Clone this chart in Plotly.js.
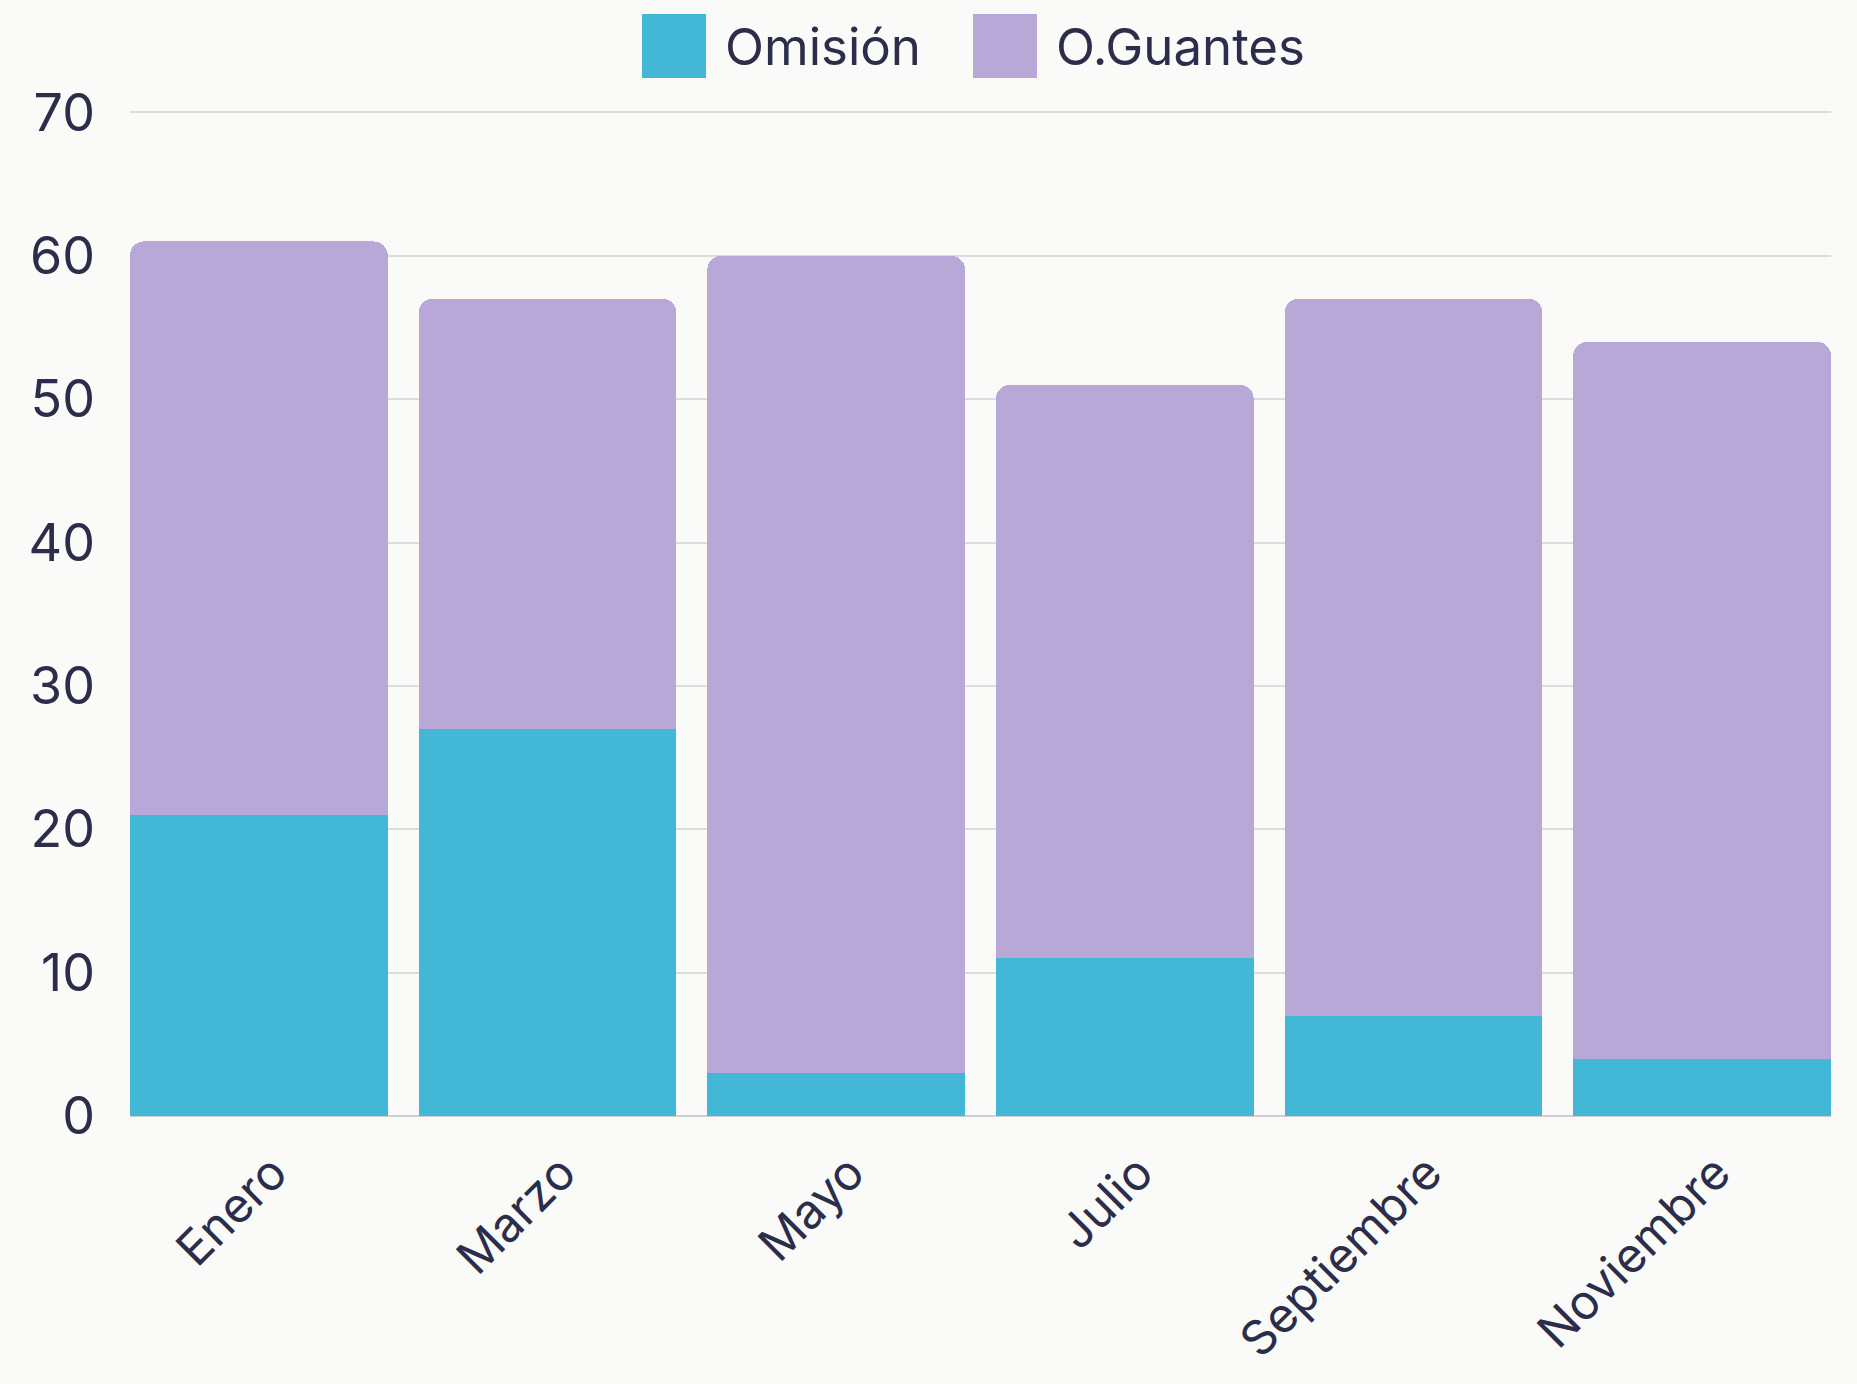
<!DOCTYPE html>
<html>
<head>
<meta charset="utf-8">
<script src="https://cdn.plot.ly/plotly-3.0.1.min.js"></script>
<style>
html,body{margin:0;padding:0;background:#fafaf9;}
#chart{width:1857px;height:1384px;}
</style>
</head>
<body>
<div id="chart"></div>
<script>
const months = ["Enero", "Marzo", "Mayo", "Julio", "Septiembre", "Noviembre"];
const omision = [21, 27, 3, 11, 7, 4];
const guantes = [40, 30, 57, 40, 50, 50];
const seriesNames = ["Omisión", "O.Guantes"];
const seriesColors = ["#42b7d6", "#b8a8d8"];
const yTicks = [0, 10, 20, 30, 40, 50, 60, 70];

const textColor = "#2b2d4a";
const fontFamily = "Inter, 'Noto Sans', sans-serif";
const gap = 0.107;
const half = (1 - gap) / 2;

const traces = [
  {type: "bar", name: seriesNames[0], x: months, y: omision,
   marker: {color: seriesColors[0], line: {width: 0}}, showlegend: false},
  {type: "bar", name: seriesNames[1], x: months, y: guantes,
   marker: {color: seriesColors[1], line: {width: 0}}, showlegend: false}
];

// custom legend (swatches + labels)
const plotL = 130, plotW = 1701, plotT = 111, plotH = 1005;
const legendSwatchX = [642, 973];
const legendTextX = [723, 1054];
const shapes = [];
const annotations = [];
for (let i = 0; i < seriesNames.length; i++) {
  shapes.push({type: "rect", xref: "paper", yref: "paper",
    x0: (legendSwatchX[i] - plotL) / plotW, x1: (legendSwatchX[i] + 64 - plotL) / plotW,
    y0: 1 + (plotT - 78) / plotH, y1: 1 + (plotT - 14) / plotH,
    fillcolor: seriesColors[i], line: {width: 0}});
  annotations.push({xref: "paper", yref: "paper",
    x: (legendTextX[i] - plotL) / plotW, y: 1 + (plotT - 47) / plotH,
    xanchor: "left", yanchor: "middle", showarrow: false,
    text: seriesNames[i], font: {family: fontFamily, size: 51, color: textColor}});
}

const layout = {
  width: 1857, height: 1384,
  paper_bgcolor: "#fafaf9", plot_bgcolor: "#fafaf9",
  margin: {l: plotL, r: 1857 - plotL - plotW, t: plotT, b: 1384 - plotT - plotH, pad: 0},
  barmode: "stack",
  bargap: gap,
  barcornerradius: 14,
  showlegend: false,
  font: {family: fontFamily, color: textColor, size: 52},
  xaxis: {
    type: "category", range: [-half, months.length - 1 + half],
    tickangle: -45, showgrid: false, zeroline: false,
    showline: false, ticks: "", tickfont: {size: 48, color: textColor},
    ticklabelstandoff: 18, ticklabelshift: 14
  },
  yaxis: {
    range: [0, 70.1], tickvals: yTicks, ticktext: yTicks.map(String),
    showgrid: true, gridcolor: "#dcdcdc", gridwidth: 2,
    zeroline: true, zerolinecolor: "#cfcfcf", zerolinewidth: 2,
    showline: false, ticks: "", tickfont: {size: 52, color: textColor},
    ticklabelstandoff: 34
  },
  shapes: shapes,
  annotations: annotations
};

Plotly.newPlot("chart", traces, layout, {displayModeBar: false, staticPlot: true});
</script>
</body>
</html>
